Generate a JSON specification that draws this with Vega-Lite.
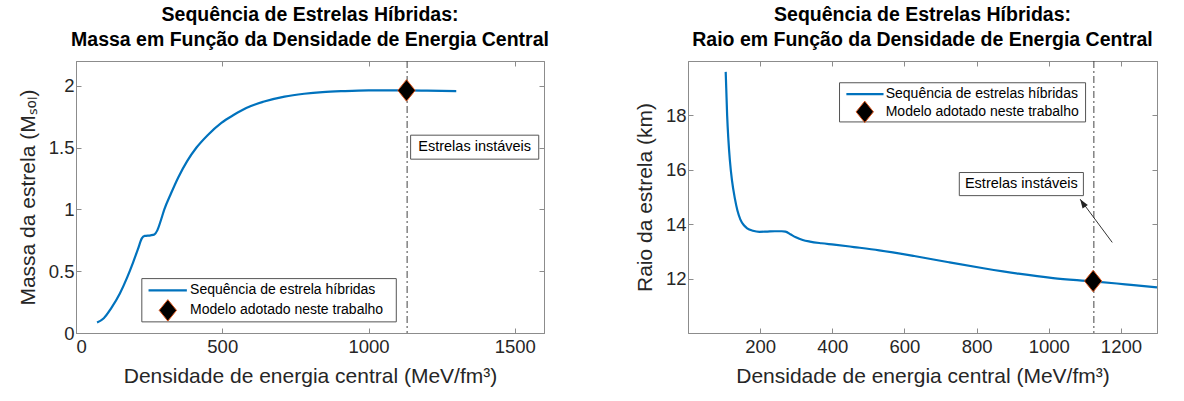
{
  "$schema": "https://vega.github.io/schema/vega-lite/v6.json",
  "padding": {"left": 16, "top": 4, "right": 0, "bottom": 0},
  "spacing": 144,
  "bounds": "flush",
  "datasets": {
    "massa": [
      {"e": 72, "v": 0.085}, {"e": 95, "v": 0.12}, {"e": 120, "v": 0.2}, {"e": 150, "v": 0.32},
      {"e": 175, "v": 0.45}, {"e": 195, "v": 0.57}, {"e": 212, "v": 0.68}, {"e": 225, "v": 0.765},
      {"e": 235, "v": 0.785}, {"e": 255, "v": 0.79}, {"e": 268, "v": 0.797}, {"e": 278, "v": 0.83},
      {"e": 290, "v": 0.91}, {"e": 302, "v": 1.0}, {"e": 325, "v": 1.13}, {"e": 350, "v": 1.26},
      {"e": 380, "v": 1.39}, {"e": 412, "v": 1.5}, {"e": 450, "v": 1.6}, {"e": 497, "v": 1.7},
      {"e": 540, "v": 1.765}, {"e": 582, "v": 1.82}, {"e": 640, "v": 1.87}, {"e": 713, "v": 1.912},
      {"e": 780, "v": 1.935}, {"e": 843, "v": 1.949}, {"e": 920, "v": 1.957}, {"e": 1000, "v": 1.962},
      {"e": 1080, "v": 1.963}, {"e": 1130, "v": 1.962}, {"e": 1200, "v": 1.96}, {"e": 1300, "v": 1.957}
    ],
    "raio": [
      {"e": 104.5, "v": 19.6}, {"e": 106, "v": 19.0}, {"e": 108.5, "v": 18.0}, {"e": 112, "v": 17.1},
      {"e": 116, "v": 16.36}, {"e": 122, "v": 15.6}, {"e": 130, "v": 14.94}, {"e": 137, "v": 14.5},
      {"e": 145, "v": 14.18}, {"e": 155, "v": 13.96}, {"e": 164, "v": 13.85}, {"e": 180, "v": 13.76},
      {"e": 198, "v": 13.72}, {"e": 220, "v": 13.73}, {"e": 241, "v": 13.74}, {"e": 260, "v": 13.74},
      {"e": 270, "v": 13.73}, {"e": 285, "v": 13.62}, {"e": 299, "v": 13.52}, {"e": 318, "v": 13.42},
      {"e": 338, "v": 13.36}, {"e": 370, "v": 13.3}, {"e": 405, "v": 13.25}, {"e": 460, "v": 13.16},
      {"e": 530, "v": 13.04}, {"e": 627, "v": 12.83}, {"e": 723, "v": 12.6}, {"e": 819, "v": 12.38},
      {"e": 916, "v": 12.18}, {"e": 1012, "v": 12.02}, {"e": 1123, "v": 11.9}, {"e": 1212, "v": 11.79},
      {"e": 1300, "v": 11.68}
    ],
    "massa_modelo": [{"e": 1130, "v": 1.962}],
    "raio_modelo": [{"e": 1123, "v": 11.91}],
    "massa_limite": [{"e": 1132}],
    "raio_limite": [{"e": 1125}],
    "massa_caixas": [
      {"x1": 225, "x2": 1095, "y1": 0.09, "y2": 0.44},
      {"x1": 1144, "x2": 1582, "y1": 1.406, "y2": 1.6}
    ],
    "raio_caixas": [
      {"x1": 420, "x2": 1102, "y1": 17.76, "y2": 19.2},
      {"x1": 752, "x2": 1096, "y1": 15.05, "y2": 15.9}
    ],
    "massa_leg_linha": [{"x1": 248, "x2": 379, "y": 0.344}],
    "raio_leg_linha": [{"x1": 439, "x2": 542, "y": 18.78}],
    "massa_leg_ponto": [{"x": 314, "y": 0.183}],
    "raio_leg_ponto": [{"x": 490, "y": 18.13}],
    "massa_textos": [
      {"x": 390, "y": 0.344, "t": "Sequência de estrela híbridas"},
      {"x": 390, "y": 0.183, "t": "Modelo adotado neste trabalho"}
    ],
    "raio_textos": [
      {"x": 548, "y": 18.78, "t": "Sequência de estrelas híbridas"},
      {"x": 548, "y": 18.13, "t": "Modelo adotado neste trabalho"}
    ],
    "massa_nota": [{"x": 1363, "y": 1.503, "t": "Estrelas instáveis"}],
    "raio_nota": [{"x": 924, "y": 15.475, "t": "Estrelas instáveis"}],
    "raio_seta": [{"x1": 1176, "y1": 13.33, "x2": 1087, "y2": 14.92}]
  },
  "hconcat": [
    {
      "width": 468,
      "height": 272,
      "title": {"text": ["Sequência de Estrelas Híbridas:", "Massa em Função da Densidade de Energia Central"]},
      "resolve": {"axis": {"x": "independent", "y": "independent"}},
      "layer": [
        {
          "data": {"name": "massa_caixas"},
          "mark": {"type": "rect", "fill": "white", "stroke": "#555555", "strokeWidth": 1},
          "encoding": {
            "x": {"field": "x1", "type": "quantitative", "scale": {"domain": [0, 1600]}, "axis": null},
            "x2": {"field": "x2"},
            "y": {"field": "y1", "type": "quantitative", "scale": {"domain": [0, 2.2]}, "axis": null},
            "y2": {"field": "y2"}
          }
        },
        {
          "data": {"name": "massa_limite"},
          "mark": {"type": "rule", "color": "#444444", "strokeWidth": 1, "strokeDash": [7, 3, 2, 3]},
          "encoding": {"x": {"field": "e", "type": "quantitative", "axis": null}}
        },
        {
          "data": {"name": "massa"},
          "mark": {"type": "line", "color": "#0072BD", "strokeWidth": 2.2, "interpolate": "monotone"},
          "encoding": {
            "x": {"field": "e", "type": "quantitative", "axis": {"values": [0, 500, 1000, 1500], "format": "d", "title": "Densidade de energia central (MeV/fm³)"}},
            "y": {"field": "v", "type": "quantitative", "axis": {"values": [0, 0.5, 1, 1.5, 2], "format": "~g", "title": "Massa da estrela (Mₛₒₗ)"}}
          }
        },
        {
          "data": {"name": "massa_modelo"},
          "mark": {"type": "point", "filled": true, "fill": "black", "stroke": "#D95319", "strokeWidth": 1, "opacity": 1, "shape": "M0,-1.24L1,0L0,1.24L-1,0Z", "size": 300},
          "encoding": {
            "x": {"field": "e", "type": "quantitative", "axis": {"orient": "top", "values": [0, 500, 1000, 1500], "labels": false, "title": null}},
            "y": {"field": "v", "type": "quantitative", "axis": {"orient": "right", "values": [0, 0.5, 1, 1.5, 2], "labels": false, "title": null}}
          }
        },
        {
          "data": {"name": "massa_leg_linha"},
          "mark": {"type": "rule", "color": "#0072BD", "strokeWidth": 2.2},
          "encoding": {
            "x": {"field": "x1", "type": "quantitative", "axis": null},
            "x2": {"field": "x2"},
            "y": {"field": "y", "type": "quantitative", "axis": null}
          }
        },
        {
          "data": {"name": "massa_leg_ponto"},
          "mark": {"type": "point", "filled": true, "fill": "black", "stroke": "#D95319", "strokeWidth": 1, "opacity": 1, "shape": "M0,-1.24L1,0L0,1.24L-1,0Z", "size": 300},
          "encoding": {
            "x": {"field": "x", "type": "quantitative", "axis": null},
            "y": {"field": "y", "type": "quantitative", "axis": null}
          }
        },
        {
          "data": {"name": "massa_textos"},
          "mark": {"type": "text", "align": "left", "baseline": "middle", "fontSize": 14, "color": "#000000"},
          "encoding": {
            "x": {"field": "x", "type": "quantitative", "axis": null},
            "y": {"field": "y", "type": "quantitative", "axis": null},
            "text": {"field": "t"}
          }
        },
        {
          "data": {"name": "massa_nota"},
          "mark": {"type": "text", "align": "center", "baseline": "middle", "fontSize": 14.5, "color": "#000000"},
          "encoding": {
            "x": {"field": "x", "type": "quantitative", "axis": null},
            "y": {"field": "y", "type": "quantitative", "axis": null},
            "text": {"field": "t"}
          }
        }
      ]
    },
    {
      "width": 469,
      "height": 272,
      "title": {"text": ["Sequência de Estrelas Híbridas:", "Raio em Função da Densidade de Energia Central"]},
      "resolve": {"axis": {"x": "independent", "y": "independent"}},
      "layer": [
        {
          "data": {"name": "raio_caixas"},
          "mark": {"type": "rect", "fill": "white", "stroke": "#555555", "strokeWidth": 1},
          "encoding": {
            "x": {"field": "x1", "type": "quantitative", "scale": {"domain": [50, 1300]}, "axis": null},
            "x2": {"field": "x2"},
            "y": {"field": "y1", "type": "quantitative", "scale": {"domain": [10.7, 19.6]}, "axis": null},
            "y2": {"field": "y2"}
          }
        },
        {
          "data": {"name": "raio_limite"},
          "mark": {"type": "rule", "color": "#444444", "strokeWidth": 1, "strokeDash": [7, 3, 2, 3]},
          "encoding": {"x": {"field": "e", "type": "quantitative", "axis": null}}
        },
        {
          "data": {"name": "raio"},
          "mark": {"type": "line", "color": "#0072BD", "strokeWidth": 2.2, "interpolate": "monotone"},
          "encoding": {
            "x": {"field": "e", "type": "quantitative", "axis": {"values": [200, 400, 600, 800, 1000, 1200], "format": "d", "title": "Densidade de energia central (MeV/fm³)"}},
            "y": {"field": "v", "type": "quantitative", "axis": {"values": [12, 14, 16, 18], "format": "d", "title": "Raio da estrela (km)"}}
          }
        },
        {
          "data": {"name": "raio_modelo"},
          "mark": {"type": "point", "filled": true, "fill": "black", "stroke": "#D95319", "strokeWidth": 1, "opacity": 1, "shape": "M0,-1.24L1,0L0,1.24L-1,0Z", "size": 300},
          "encoding": {
            "x": {"field": "e", "type": "quantitative", "axis": {"orient": "top", "values": [200, 400, 600, 800, 1000, 1200], "labels": false, "title": null}},
            "y": {"field": "v", "type": "quantitative", "axis": {"orient": "right", "values": [12, 14, 16, 18], "labels": false, "title": null}}
          }
        },
        {
          "data": {"name": "raio_leg_linha"},
          "mark": {"type": "rule", "color": "#0072BD", "strokeWidth": 2.2},
          "encoding": {
            "x": {"field": "x1", "type": "quantitative", "axis": null},
            "x2": {"field": "x2"},
            "y": {"field": "y", "type": "quantitative", "axis": null}
          }
        },
        {
          "data": {"name": "raio_leg_ponto"},
          "mark": {"type": "point", "filled": true, "fill": "black", "stroke": "#D95319", "strokeWidth": 1, "opacity": 1, "shape": "M0,-1.24L1,0L0,1.24L-1,0Z", "size": 300},
          "encoding": {
            "x": {"field": "x", "type": "quantitative", "axis": null},
            "y": {"field": "y", "type": "quantitative", "axis": null}
          }
        },
        {
          "data": {"name": "raio_textos"},
          "mark": {"type": "text", "align": "left", "baseline": "middle", "fontSize": 14, "color": "#000000"},
          "encoding": {
            "x": {"field": "x", "type": "quantitative", "axis": null},
            "y": {"field": "y", "type": "quantitative", "axis": null},
            "text": {"field": "t"}
          }
        },
        {
          "data": {"name": "raio_nota"},
          "mark": {"type": "text", "align": "center", "baseline": "middle", "fontSize": 14.5, "color": "#000000"},
          "encoding": {
            "x": {"field": "x", "type": "quantitative", "axis": null},
            "y": {"field": "y", "type": "quantitative", "axis": null},
            "text": {"field": "t"}
          }
        },
        {
          "data": {"name": "raio_seta"},
          "mark": {"type": "rule", "color": "#333333", "strokeWidth": 1},
          "encoding": {
            "x": {"field": "x1", "type": "quantitative", "axis": null},
            "y": {"field": "y1", "type": "quantitative", "axis": null},
            "x2": {"field": "x2"},
            "y2": {"field": "y2"}
          }
        },
        {
          "data": {"name": "raio_seta"},
          "mark": {"type": "point", "filled": true, "color": "#222222", "opacity": 1, "shape": "M0,0L-0.7,2L0.7,2Z", "size": 81, "angle": 326},
          "encoding": {
            "x": {"field": "x2", "type": "quantitative", "axis": null},
            "y": {"field": "y2", "type": "quantitative", "axis": null}
          }
        }
      ]
    }
  ],
  "config": {
    "font": "Liberation Sans",
    "view": {"stroke": "#8c8c8c", "strokeWidth": 1},
    "axis": {
      "grid": false,
      "domainColor": "#8c8c8c",
      "tickColor": "#8c8c8c",
      "tickSize": -5,
      "labelFont": "Liberation Sans",
      "titleFont": "Liberation Sans",
      "labelFontSize": 18.5,
      "labelColor": "#262626",
      "titleFontSize": 21,
      "titleColor": "#262626",
      "titleFontWeight": "normal",
      "labelPadding": 7
    },
    "axisX": {"labelPadding": 9, "titlePadding": 10},
    "axisY": {"titlePadding": 10},
    "title": {"font": "Liberation Sans", "fontSize": 19.5, "fontWeight": "bold", "color": "#000000", "lineHeight": 25, "offset": 10, "anchor": "middle"}
  }
}
